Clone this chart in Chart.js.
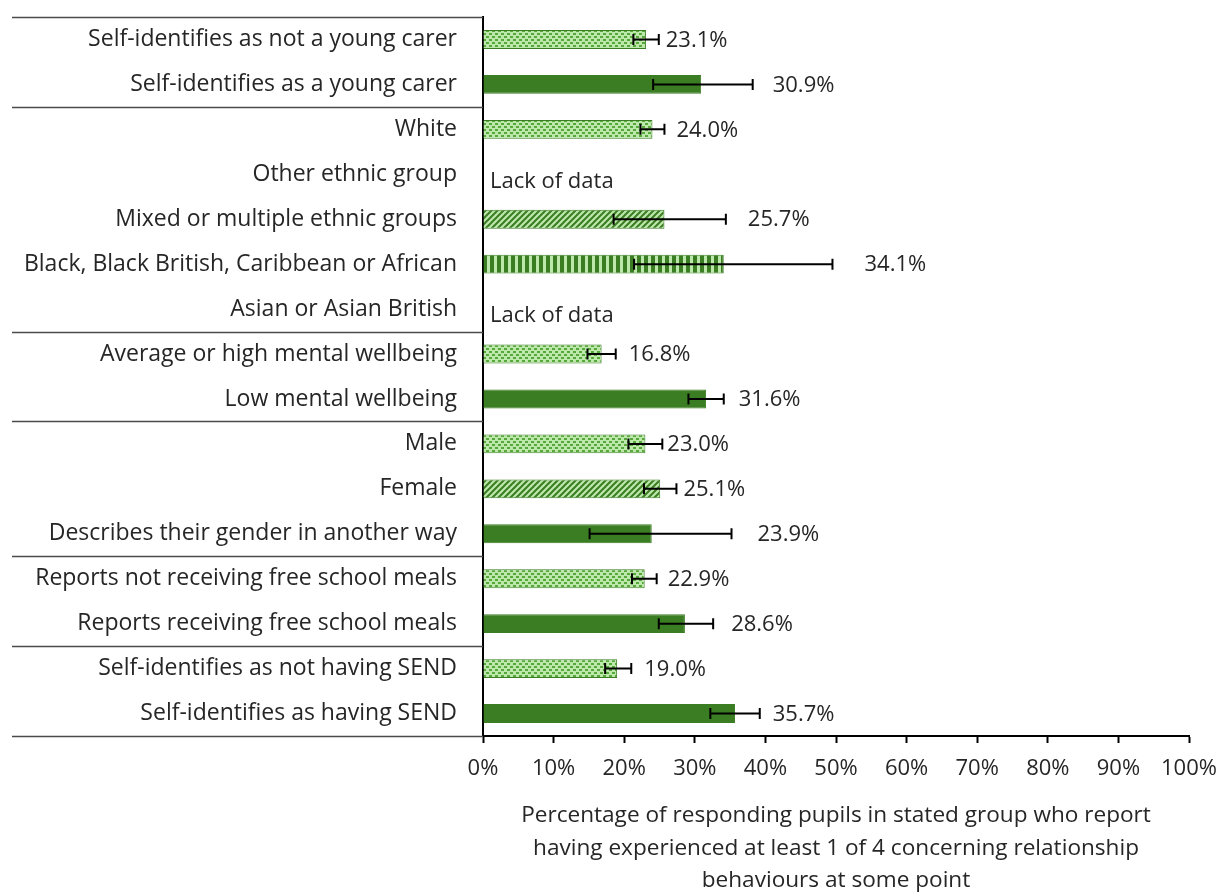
<!DOCTYPE html>
<html>
<head>
<meta charset="utf-8">
<title>Concerning relationship behaviours by pupil group</title>
<script src="https://cdn.jsdelivr.net/npm/chart.js@4.4.1/dist/chart.umd.min.js"></script>
<style>
  html, body { margin: 0; padding: 0; background: #fff; }
  #wrap { width: 1222px; height: 892px; }
</style>
</head>
<body>
<div id="wrap"><canvas id="chart"></canvas></div>
<script>
// groups, top to bottom
const categories = [
  'Self-identifies as not a young carer',
  'Self-identifies as a young carer',
  'White',
  'Other ethnic group',
  'Mixed or multiple ethnic groups',
  'Black, Black British, Caribbean or African',
  'Asian or Asian British',
  'Average or high mental wellbeing',
  'Low mental wellbeing',
  'Male',
  'Female',
  'Describes their gender in another way',
  'Reports not receiving free school meals',
  'Reports receiving free school meals',
  'Self-identifies as not having SEND',
  'Self-identifies as having SEND'
];

// % reporting at least 1 of 4 behaviours (null = too few responses)
const values = [23.1, 30.9, 24.0, null, 25.7, 34.1, null, 16.8, 31.6, 23.0, 25.1, 23.9, 22.9, 28.6, 19.0, 35.7];

// confidence interval ends
const ciLow  = [21.3, 24.1, 22.3, null, 18.5, 21.4, null, 14.8, 29.1, 20.6, 22.8, 15.1, 21.1, 24.9, 17.3, 32.2];
const ciHigh = [24.9, 38.2, 25.7, null, 34.4, 49.5, null, 18.8, 34.1, 25.4, 27.4, 35.2, 24.6, 32.6, 21.0, 39.2];

// last row of each block of related groups
const groupEnds = [1, 6, 8, 11, 13, 15];

const missingText = 'Lack of data';

const axisTitle = [
  'Percentage of responding pupils in stated group who report',
  'having experienced at least 1 of 4 concerning relationship',
  'behaviours at some point'
];

const FONT = "'Open Sans', sans-serif";
const TEXT = '#262626';
const DARK = '#3A7D22';
const LIGHT = '#BDE8AC';
const DOT = '#58A83C';

Chart.defaults.font.family = FONT;
Chart.defaults.color = TEXT;

function makePattern(kind) {
  const c = document.createElement('canvas');
  const g = c.getContext('2d');
  if (kind === 'dots') {
    c.width = 6; c.height = 6;
    g.fillStyle = LIGHT; g.fillRect(0, 0, 6, 6);
    g.fillStyle = DOT;
    g.fillRect(0, 0, 3, 2);
    g.fillRect(3, 3, 3, 2);
  } else if (kind === 'hatch') {
    c.width = 6; c.height = 6;
    g.fillStyle = LIGHT; g.fillRect(0, 0, 6, 6);
    g.strokeStyle = DARK; g.lineWidth = 2;
    g.beginPath();
    g.moveTo(-1, 7); g.lineTo(7, -1);
    g.moveTo(-1, 1); g.lineTo(1, -1);
    g.moveTo(5, 7); g.lineTo(7, 5);
    g.stroke();
  } else if (kind === 'stripes') {
    c.width = 7; c.height = 2;
    g.fillStyle = LIGHT; g.fillRect(0, 0, 7, 2);
    g.fillStyle = DARK; g.fillRect(0, 0, 4, 2);
  } else {
    return DARK;
  }
  return g.createPattern(c, 'repeat');
}

const fills = {
  dots: makePattern('dots'),
  hatch: makePattern('hatch'),
  stripes: makePattern('stripes'),
  solid: DARK
};
const barFill = ['dots', 'solid', 'dots', 'solid', 'hatch', 'stripes', 'solid', 'dots',
                 'solid', 'dots', 'hatch', 'solid', 'dots', 'solid', 'dots', 'solid'];

// space (px) between the whisker end and the value label
const labelGap = [7, 20, 12, 0, 22, 32, 0, 13, 15, 5, 7, 26, 11, 18, 13, 13];

const groupLines = {
  id: 'groupLines',
  afterDraw(chart) {
    const { ctx, chartArea, scales: { y } } = chart;
    const half = (y.getPixelForValue(1) - y.getPixelForValue(0)) / 2;
    const rows = [-1].concat(groupEnds);
    ctx.save();
    ctx.strokeStyle = '#4a4a4a';
    ctx.lineWidth = 1.3;
    rows.forEach(r => {
      const yy = Math.round(y.getPixelForValue(r) + half) + 0.5;
      ctx.beginPath();
      ctx.moveTo(12, yy);
      ctx.lineTo(chartArea.left, yy);
      ctx.stroke();
    });
    ctx.restore();
  }
};

const errorBars = {
  id: 'errorBars',
  afterDatasetsDraw(chart) {
    const { ctx, chartArea, scales: { x, y } } = chart;
    ctx.save();
    ctx.strokeStyle = '#000';
    ctx.lineWidth = 2;
    ctx.font = '22px ' + FONT;
    ctx.fillStyle = TEXT;
    ctx.textBaseline = 'middle';
    ctx.textAlign = 'left';
    values.forEach((v, i) => {
      const yy = y.getPixelForValue(i);
      if (v == null) {
        ctx.fillText(missingText, chartArea.left + 7, yy + 7);
        return;
      }
      const x0 = x.getPixelForValue(ciLow[i]);
      const x1 = x.getPixelForValue(ciHigh[i]);
      ctx.beginPath();
      ctx.moveTo(x0, yy); ctx.lineTo(x1, yy);
      ctx.moveTo(x0, yy - 5.5); ctx.lineTo(x0, yy + 5.5);
      ctx.moveTo(x1, yy - 5.5); ctx.lineTo(x1, yy + 5.5);
      ctx.stroke();
      ctx.fillText(v.toFixed(1) + '%', x1 + labelGap[i], yy + 1);
    });
    ctx.restore();
  }
};

const titleBelow = {
  id: 'titleBelow',
  afterDraw(chart) {
    const { ctx, chartArea } = chart;
    const cx = (chartArea.left + chartArea.right) / 2;
    ctx.save();
    ctx.font = '22.6px ' + FONT;
    ctx.fillStyle = TEXT;
    ctx.textAlign = 'center';
    ctx.textBaseline = 'middle';
    axisTitle.forEach((line, k) => {
      ctx.fillText(line, cx, chartArea.bottom + 80 + k * 32.5);
    });
    ctx.restore();
  }
};

new Chart(document.getElementById('chart'), {
  type: 'bar',
  data: {
    labels: categories,
    datasets: [{
      data: values,
      backgroundColor: barFill.map(k => fills[k]),
      borderColor: DARK,
      borderWidth: 1,
      barPercentage: 0.42,
      categoryPercentage: 1
    }]
  },
  options: {
    indexAxis: 'y',
    responsive: true,
    maintainAspectRatio: false,
    animation: false,
    layout: { padding: { top: 17, right: 33, bottom: 0, left: 0 } },
    plugins: {
      legend: { display: false },
      tooltip: { enabled: false }
    },
    scales: {
      x: {
        min: 0,
        max: 100,
        ticks: {
          stepSize: 10,
          maxRotation: 0,
          padding: 13,
          font: { size: 22 },
          color: TEXT,
          callback: v => v + '%'
        },
        grid: {
          display: true,
          drawOnChartArea: false,
          drawTicks: true,
          tickLength: 7,
          tickColor: '#000',
          tickWidth: 2
        },
        border: { display: true, color: '#000', width: 2 },
        afterFit(s) {
          s.height = 156;
          s.paddingLeft = 0;
          s.paddingRight = 0;
        }
      },
      y: {
        ticks: { font: { size: 23 }, color: TEXT, padding: 26, autoSkip: false },
        grid: { display: false, drawTicks: false },
        border: { display: true, color: '#000', width: 2 },
        afterFit(s) {
          s.width = 483;
          s.paddingTop = 0;
          s.paddingBottom = 0;
        }
      }
    }
  },
  plugins: [groupLines, errorBars, titleBelow]
});
</script>
</body>
</html>
